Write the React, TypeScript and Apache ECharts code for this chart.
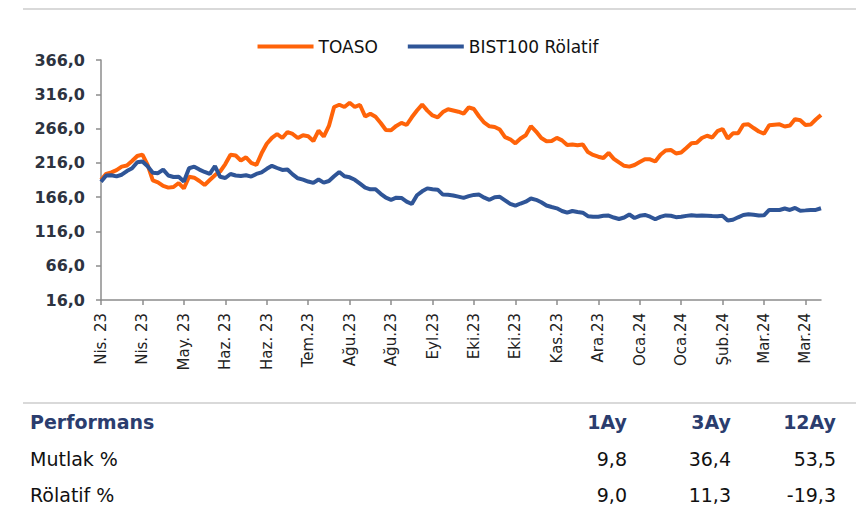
import React, { useEffect, useRef } from "react";
import * as echarts from "echarts";

const tickLabels = [
  "Nis. 23", "Nis. 23", "May. 23", "Haz. 23", "Haz. 23", "Tem.23", "Ağu.23", "Ağu.23", "Eyl.23",
  "Eki.23", "Eki.23", "Kas.23", "Ara.23", "Oca.24", "Oca.24", "Şub.24", "Mar.24", "Mar.24",
];

const toaso = [
  191.0, 199.9, 202.1, 205.4, 210.5, 212.1, 218.7, 226.0, 228.0, 212.9,
  190.3, 187.5, 182.3, 179.9, 180.8, 186.6, 178.8, 195.7, 194.4, 189.5,
  183.7, 191.0, 198.0, 203.4, 214.3, 227.9, 226.7, 219.4, 224.1, 216.1,
  212.9, 229.9, 243.8, 252.5, 258.1, 252.2, 261.0, 258.1, 252.2, 256.3,
  254.9, 247.9, 262.9, 254.4, 269.8, 297.5, 300.8, 297.5, 303.6, 297.5,
  300.4, 283.6, 287.7, 283.2, 274.1, 263.9, 263.5, 269.9, 274.3, 271.2,
  282.4, 292.4, 301.0, 292.2, 285.1, 282.4, 290.0, 294.1, 292.4, 290.6,
  287.8, 296.9, 294.5, 283.6, 274.6, 269.3, 268.3, 264.6, 253.4, 250.4,
  244.5, 251.5, 256.2, 269.5, 261.7, 252.2, 247.6, 247.9, 252.4, 248.8,
  242.0, 242.9, 241.6, 242.8, 231.7, 227.6, 225.0, 223.1, 230.5, 221.9,
  216.7, 211.7, 210.5, 212.9, 217.3, 221.3, 221.2, 218.0, 227.9, 234.0,
  234.8, 229.7, 231.1, 237.8, 244.7, 245.4, 252.2, 255.5, 253.0, 262.2,
  265.4, 251.5, 259.1, 259.1, 271.7, 272.2, 266.8, 261.7, 258.4, 270.8,
  271.7, 272.2, 269.0, 270.5, 279.8, 278.1, 271.2, 271.8, 279.2, 285.8,
];

const bist100Relative = [
  188.5, 197.6, 198.0, 196.3, 198.7, 204.1, 208.1, 216.8, 218.1, 211.1,
  201.5, 200.9, 206.2, 197.6, 195.4, 195.7, 188.7, 208.1, 210.4, 206.2,
  202.7, 199.9, 211.4, 195.7, 193.9, 199.8, 197.6, 196.8, 197.9, 196.0,
  199.8, 202.2, 207.3, 211.7, 208.5, 205.6, 206.2, 199.2, 193.5, 191.6,
  188.8, 186.8, 191.7, 187.2, 189.5, 196.4, 202.8, 196.4, 194.9, 191.3,
  185.7, 179.9, 177.4, 177.4, 170.9, 165.2, 162.1, 165.2, 164.8, 159.5,
  156.0, 168.8, 174.5, 178.8, 177.6, 176.9, 169.7, 169.4, 168.5, 166.8,
  164.9, 167.4, 169.3, 169.7, 165.2, 162.1, 165.9, 166.4, 161.4, 156.3,
  153.5, 156.7, 159.4, 164.0, 162.1, 158.5, 153.8, 151.6, 149.7, 145.8,
  143.3, 145.8, 144.3, 143.3, 138.2, 137.5, 137.5, 138.8, 139.1, 136.3,
  134.1, 136.3, 140.7, 135.6, 138.8, 140.0, 137.5, 133.8, 137.3, 139.4,
  138.8, 136.8, 137.3, 138.7, 139.7, 138.8, 139.3, 139.0, 138.5, 138.1,
  138.7, 131.8, 133.1, 136.6, 140.0, 141.1, 140.3, 139.3, 139.5, 147.3,
  147.3, 147.3, 149.4, 147.3, 150.3, 146.2, 146.7, 147.3, 147.4, 149.8,
];

const seriesNames = ["TOASO", "BIST100 Rölatif"];
const yTicks = { min: 16, max: 366, step: 50 };

const perfTitle = "Performans";
const perfPeriods = ["1Ay", "3Ay", "12Ay"];
const rowLabels = ["Mutlak %", "Rölatif %"];
const mutlak = [9.8, 36.4, 53.5];
const rolatif = [9.0, 11.3, -19.3];

const LABEL_STEP = 8;
const ORANGE = "#ff6309";
const BLUE = "#2f5597";
const NAVY = "#2b3d6e";
const FONT = "DejaVu Sans";

const fmt = (v: number) => v.toFixed(1).replace(".", ",");

export default function App() {
  const ref = useRef<HTMLDivElement>(null);

  useEffect(() => {
    if (!ref.current) return;
    const chart = echarts.init(ref.current, null, { renderer: "svg" });

    const categories = toaso.map((_, i) =>
      i % LABEL_STEP === 0 ? tickLabels[i / LABEL_STEP] ?? "" : ""
    );

    const colX = [627, 731, 836];
    const rowY = [459, 495];
    const rows = [mutlak, rolatif];

    const graphics: any[] = [
      { type: "line", shape: { x1: 23, y1: 9, x2: 856, y2: 9 }, style: { stroke: "#d9d9d9", lineWidth: 2 } },
      { type: "line", shape: { x1: 23, y1: 403, x2: 856, y2: 403 }, style: { stroke: "#d9d9d9", lineWidth: 2 } },
      {
        type: "text", x: 30, y: 422,
        style: { text: perfTitle, fill: NAVY, font: `bold 19px "${FONT}"`, textAlign: "left", textVerticalAlign: "middle" },
      },
    ];
    perfPeriods.forEach((p, j) => {
      graphics.push({
        type: "text", x: colX[j], y: 422,
        style: { text: p, fill: NAVY, font: `bold 19px "${FONT}"`, textAlign: "right", textVerticalAlign: "middle" },
      });
    });
    rowLabels.forEach((lab, r) => {
      graphics.push({
        type: "text", x: 30, y: rowY[r],
        style: { text: lab, fill: "#111", font: `19px "${FONT}"`, textAlign: "left", textVerticalAlign: "middle" },
      });
      rows[r].forEach((v, j) => {
        graphics.push({
          type: "text", x: colX[j], y: rowY[r],
          style: { text: fmt(v), fill: "#111", font: `19px "${FONT}"`, textAlign: "right", textVerticalAlign: "middle" },
        });
      });
    });

    chart.setOption({
      animation: false,
      backgroundColor: "#ffffff",
      grid: { left: 101, right: 35, top: 60, bottom: 213, containLabel: false },
      legend: {
        top: 33,
        left: "center",
        itemWidth: 56,
        itemHeight: 4,
        itemGap: 30,
        icon: "rect",
        data: seriesNames,
        textStyle: { fontFamily: FONT, fontSize: 17, color: "#111" },
      },
      xAxis: {
        type: "category",
        boundaryGap: false,
        data: categories,
        axisLine: { lineStyle: { color: "#8c8c8c", width: 1.5 } },
        axisTick: { show: true, interval: LABEL_STEP - 1, length: 5, lineStyle: { color: "#8c8c8c", width: 1.5 } },
        axisLabel: {
          interval: LABEL_STEP - 1,
          rotate: 90,
          margin: 13,
          fontFamily: FONT,
          fontSize: 15,
          color: "#222",
        },
        splitLine: { show: false },
      },
      yAxis: {
        type: "value",
        min: yTicks.min,
        max: yTicks.max,
        interval: yTicks.step,
        axisLine: { show: true, lineStyle: { color: "#8c8c8c", width: 1.5 } },
        axisTick: { show: true, length: 5, lineStyle: { color: "#8c8c8c", width: 1.5 } },
        axisLabel: {
          margin: 16,
          fontFamily: FONT,
          fontSize: 16,
          fontWeight: "bold",
          color: "#2d3340",
          formatter: (v: number) => fmt(v),
        },
        splitLine: { show: false },
      },
      series: [
        {
          name: seriesNames[0],
          type: "line",
          data: toaso,
          showSymbol: false,
          symbol: "none",
          lineStyle: { color: ORANGE, width: 4 },
          itemStyle: { color: ORANGE },
          z: 2,
        },
        {
          name: seriesNames[1],
          type: "line",
          data: bist100Relative,
          showSymbol: false,
          symbol: "none",
          lineStyle: { color: BLUE, width: 4 },
          itemStyle: { color: BLUE },
          z: 3,
        },
      ],
      graphic: graphics,
    });

    return () => chart.dispose();
  }, []);

  return <div ref={ref} style={{ width: 856, height: 513, position: "absolute", left: 0, top: 0 }} />;
}
